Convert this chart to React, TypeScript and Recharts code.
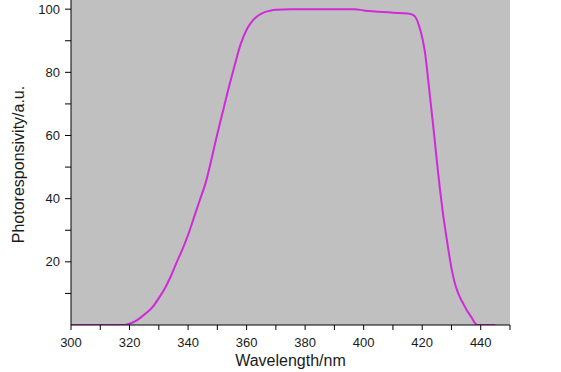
import React from 'react';
import { LineChart, Line, XAxis, YAxis, CartesianGrid } from 'recharts';

const wavelengths = [
  300, 310, 318, 320, 322, 324, 326, 328, 330, 332, 334, 336, 338, 340, 342, 344, 346, 348, 350,
  352, 354, 356, 358, 360, 362, 364, 366, 368, 370, 375, 385, 397, 400, 405, 410, 415, 417, 418,
  419, 420, 421, 422, 423, 424, 425, 426, 427, 428, 429, 430, 431, 432, 433, 434, 435, 436, 437,
  438, 439, 445,
];
const response = [
  0, 0, 0, 0.4, 1.2, 2.5, 4, 5.8, 8.5, 11.5, 15.2, 19.6, 23.8, 28.5, 34, 39.5, 45, 52.5, 60.5,
  68, 75.5, 82.5, 89, 93.5, 96.3, 98, 99, 99.5, 99.8, 100, 100, 100, 99.6, 99.2, 98.9, 98.6, 98.1, 97,
  94.5, 91, 86, 78, 69.5, 61, 52, 43.5, 36, 29.5, 23.5, 18, 13.8, 10.8, 8.6, 6.8, 5.1, 3.6, 2.2,
  0.7, 0, 0,
];
const xTicks = [300, 310, 320, 330, 340, 350, 360, 370, 380, 390, 400, 410, 420, 430, 440, 450];
const yTicks = [10, 20, 30, 40, 50, 60, 70, 80, 90, 100];

const data = wavelengths.map((wl, i) => ({ wl, r: response[i] }));

const FONT = '"Liberation Sans", Arial, sans-serif';

export default function App() {
  return (
    <div style={{ position: 'absolute', left: 0, top: 0, width: 561, height: 372, background: '#fff' }}>
      <LineChart width={561} height={372} data={data} margin={{ top: 0, right: 51, left: 0, bottom: 0 }}>
        <CartesianGrid horizontal={false} vertical={false} fill="#c0c0c0" stroke="none" />
        <XAxis
          dataKey="wl"
          type="number"
          domain={[300, 450]}
          ticks={xTicks}
          interval={0}
          allowDataOverflow
          tickFormatter={(v: number) => (v % 20 === 0 && v <= 440 ? String(v) : '')}
          tickSize={5}
          tickMargin={8}
          height={47}
          stroke="#000"
          tick={{ fontSize: 13, fill: '#1a1a1a', fontFamily: FONT }}
          tickLine={{ stroke: '#000' }}
          label={{
            value: 'Wavelength/nm',
            position: 'insideBottom',
            offset: 6,
            style: { fontSize: 16, fill: '#1a1a1a', fontFamily: FONT },
          }}
        />
        <YAxis
          type="number"
          domain={[0, 102.9]}
          ticks={yTicks}
          interval={0}
          allowDataOverflow
          tickFormatter={(v: number) => (v % 20 === 0 ? String(v) : '')}
          tickSize={6}
          tickMargin={5}
          width={71}
          stroke="#000"
          tick={{ fontSize: 13, fill: '#1a1a1a', fontFamily: FONT }}
          tickLine={{ stroke: '#000' }}
          label={{
            content: (props: any) => {
              const vb = props.viewBox || { x: 0, y: 0, width: 71, height: 325 };
              const cx = vb.x + 24;
              const cy = vb.y + vb.height / 2 + 2;
              return (
                <text
                  x={cx}
                  y={cy}
                  transform={`rotate(-90, ${cx}, ${cy})`}
                  textAnchor="middle"
                  style={{ fontSize: 16, fill: '#1a1a1a', fontFamily: FONT }}
                >
                  Photoresponsivity/a.u.
                </text>
              );
            },
          }}
        />
        <Line
          type="monotone"
          dataKey="r"
          stroke="#d02ad8"
          strokeWidth={2}
          dot={false}
          activeDot={false}
          isAnimationActive={false}
        />
      </LineChart>
    </div>
  );
}
